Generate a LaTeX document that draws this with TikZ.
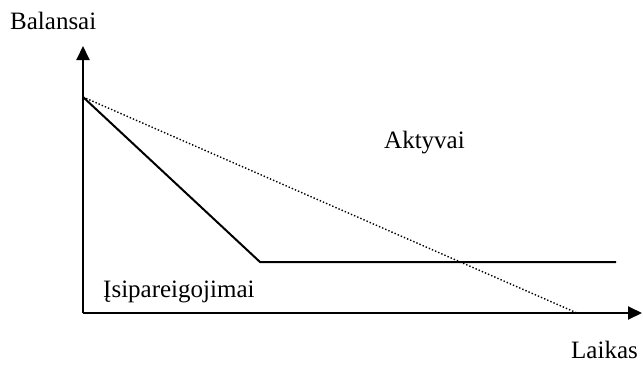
\documentclass[tikz,border=0pt]{standalone}
\usepackage{fontspec}
\setmainfont{Liberation Serif}
\usetikzlibrary{arrows.meta}
\begin{document}
\begin{tikzpicture}[x=1pt,y=-1pt,
  axis/.style={line width=2pt,-{Triangle[length=14pt,width=13pt]}},
  solidline/.style={line width=2pt},
  dotline/.style={line width=1.4pt,dotted},
  lbl/.style={inner sep=0pt,anchor=base west,font=\fontsize{25}{30}\selectfont}]
\useasboundingbox (0,0) rectangle (643,365);
\coordinate (O) at (83,313);
\coordinate (Ytip) at (83,46);
\coordinate (Xtip) at (642,313);
\coordinate (S) at (83,97);
\coordinate (C) at (260,262);
\coordinate (E) at (616,262);
\coordinate (D) at (577,313);
\draw[axis] (O) -- (Ytip);
\draw[axis] (O) -- (Xtip);
\draw[solidline,line join=miter] (S) -- (C) -- (E);
\draw[dotline] (S) -- (D);
\node[lbl] (bal) at (10,29) {Balansai};
\node[lbl] (lai) at (571,358) {Laikas};
\node[lbl] (akt) at (384,148) {Aktyvai};
\node[lbl] (isi) at (103,297) {Įsipareigojimai};
\end{tikzpicture}
\end{document}
